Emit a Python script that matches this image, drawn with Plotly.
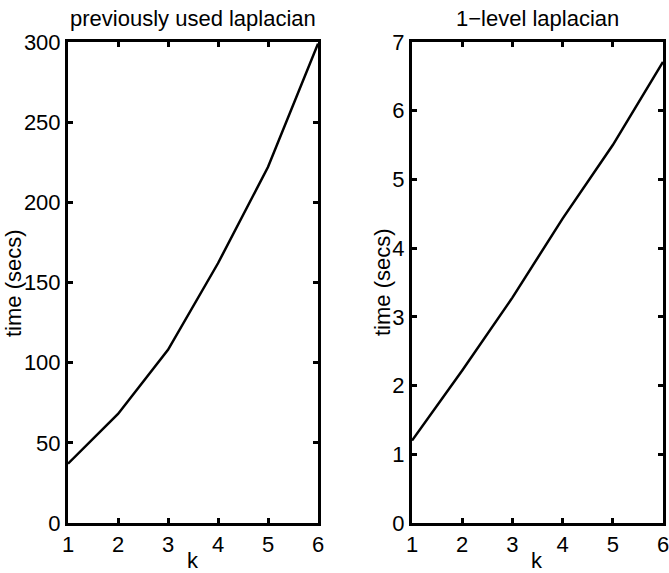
import plotly.graph_objects as go

k = [1, 2, 3, 4, 5, 6]
time_prev = [37, 68, 108, 162, 222, 299]
time_1level = [1.2, 2.22, 3.28, 4.43, 5.5, 6.71]
titles = ["previously used laplacian", "1\u2212level laplacian"]
xlabel = "k"
ylabel = "time (secs)"

W, H = 669, 573
FONT = "Liberation Sans, Arial, Helvetica, sans-serif"
FS = 22

def px_x(p):
    return p / W

def px_y(p):
    return 1 - p / H

fig = go.Figure()
fig.add_trace(go.Scatter(x=k, y=time_prev, mode="lines", line=dict(color="black", width=2.5),
                         xaxis="x", yaxis="y", cliponaxis=False, showlegend=False))
fig.add_trace(go.Scatter(x=k, y=time_1level, mode="lines", line=dict(color="black", width=2.5),
                         xaxis="x2", yaxis="y2", cliponaxis=False, showlegend=False))

axis_common = dict(showline=True, linecolor="black", linewidth=3, mirror="ticks",
                   ticks="inside", ticklen=5, tickwidth=2.5, tickcolor="black",
                   showgrid=False, zeroline=False, automargin=False,
                   ticklabeloverflow="allow",
                   tickfont=dict(family=FONT, size=FS, color="black"))

def txt(text, x, y, angle=0):
    return dict(text=text, x=px_x(x), y=px_y(y), xref="paper", yref="paper",
                showarrow=False, xanchor="center", yanchor="middle", textangle=angle,
                font=dict(size=FS, family=FONT, color="black"))

fig.update_layout(
    width=W, height=H,
    margin=dict(l=0, r=0, t=0, b=0),
    paper_bgcolor="white", plot_bgcolor="white",
    font=dict(family=FONT, color="black"),
    xaxis=dict(domain=[px_x(68), px_x(318)], range=[1, 6], tickvals=k, anchor="y", **axis_common),
    yaxis=dict(domain=[px_y(523), px_y(42)], range=[0, 300], tickvals=list(range(0, 301, 50)),
               anchor="x", **axis_common),
    xaxis2=dict(domain=[px_x(412), px_x(663)], range=[1, 6], tickvals=k, anchor="y2", **axis_common),
    yaxis2=dict(domain=[px_y(523), px_y(42)], range=[0, 7], tickvals=list(range(0, 8)),
                anchor="x2", **axis_common),
    annotations=[
        txt(titles[0], 193, 18),
        txt(titles[1], 537, 18),
        txt(xlabel, 193, 560),
        txt(xlabel, 537, 560),
        txt(ylabel, 14, 283, -90),
        txt(ylabel, 382, 282, -90),
    ],
)

fig.write_html("out.html")
